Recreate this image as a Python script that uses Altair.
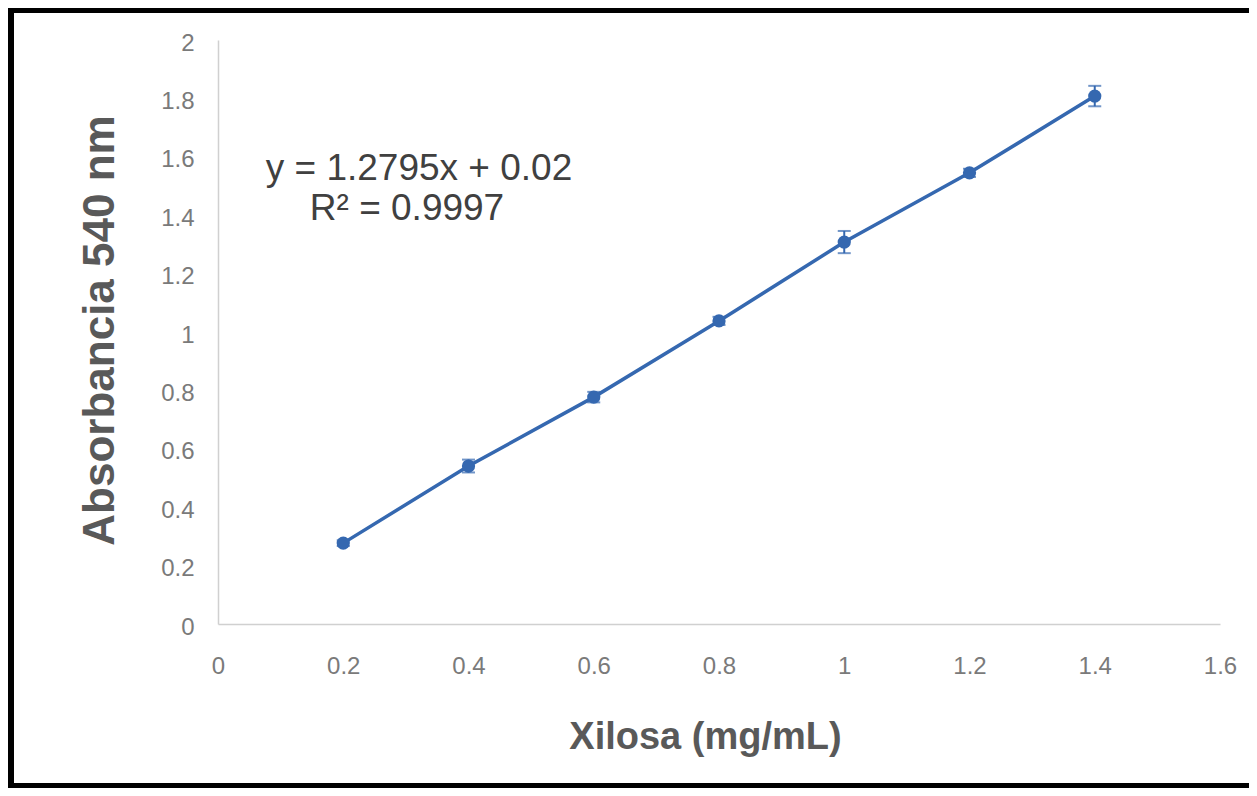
import altair as alt
import pandas as pd

# ---- data ----
xilosa = [0.2, 0.4, 0.6, 0.8, 1.0, 1.2, 1.4]
absorbancia = [0.277, 0.541, 0.777, 1.038, 1.308, 1.545, 1.808]
error = [0.010, 0.022, 0.018, 0.014, 0.038, 0.014, 0.035]
x_ticks = [0, 0.2, 0.4, 0.6, 0.8, 1.0, 1.2, 1.4, 1.6]
y_ticks = [0, 0.2, 0.4, 0.6, 0.8, 1.0, 1.2, 1.4, 1.6, 1.8, 2.0]
eq_line1 = "y = 1.2795x + 0.02"
eq_line2 = "R² = 0.9997"

df = pd.DataFrame({"x": xilosa, "y": absorbancia, "err": error})
df["lo"] = df["y"] - df["err"]
df["hi"] = df["y"] + df["err"]

BLUE = "#3568b0"
AXIS_GRAY = "#d0d0d0"
LABEL_GRAY = "#7a7a7a"
TITLE_GRAY = "#595959"

xscale = alt.Scale(domain=[0, 1.6], nice=False, zero=False)
yscale = alt.Scale(domain=[0, 2], nice=False)

xaxis = alt.Axis(
    values=x_ticks, format="~g", grid=False, ticks=False, labelFlush=False,
    domainColor=AXIS_GRAY, domainWidth=1.5,
    labelColor=LABEL_GRAY, labelFont="Liberation Sans", labelFontSize=24, labelPadding=30,
    title="Xilosa (mg/mL)", titleFont="Liberation Sans", titleFontSize=38, titleFontWeight="bold",
    titleColor=TITLE_GRAY, titleX=487, titleY=124, titleBaseline="alphabetic", titleAlign="center",
)
yaxis = alt.Axis(
    values=y_ticks, format="~g", grid=False, ticks=False, labelFlush=False,
    domainColor=AXIS_GRAY, domainWidth=1.5,
    labelColor=LABEL_GRAY, labelFont="Liberation Sans", labelFontSize=24, labelPadding=24,
    labelOffset=3,
    title="Absorbancia 540 nm", titleFont="Liberation Sans", titleFontSize=44, titleFontWeight="bold",
    titleColor=TITLE_GRAY, titleX=-118, titleY=290, titleBaseline="middle", titleAlign="center",
    titleAngle=270,
)

base = alt.Chart(df)

line = base.mark_line(color=BLUE, strokeWidth=3.5).encode(
    x=alt.X("x:Q", scale=xscale, axis=xaxis),
    y=alt.Y("y:Q", scale=yscale, axis=yaxis),
)
err_rule = base.mark_rule(color=BLUE, strokeWidth=2).encode(
    x="x:Q", y="lo:Q", y2="hi:Q"
)
err_lo = base.mark_tick(color=BLUE, orient="horizontal", size=13, thickness=2).encode(x="x:Q", y="lo:Q")
err_hi = base.mark_tick(color=BLUE, orient="horizontal", size=13, thickness=2).encode(x="x:Q", y="hi:Q")
points = base.mark_circle(color=BLUE, size=175, opacity=1).encode(x="x:Q", y="y:Q")

t1 = alt.Chart(pd.DataFrame({"t": [eq_line1]})).mark_text(
    font="Liberation Sans", fontSize=37, color="#404040", align="center", baseline="alphabetic"
).encode(text="t:N", x=alt.value(201), y=alt.value(140))
t2 = alt.Chart(pd.DataFrame({"t": [eq_line2]})).mark_text(
    font="Liberation Sans", fontSize=37, color="#404040", align="center", baseline="alphabetic"
).encode(text="t:N", x=alt.value(189), y=alt.value(180))

one = pd.DataFrame({"k": [0]})
frame_left = alt.Chart(one).mark_rule(color="black", strokeWidth=8).encode(
    x=alt.value(-208), y=alt.value(-40), y2=alt.value(760))
frame_top = alt.Chart(one).mark_rule(color="black", strokeWidth=6).encode(
    x=alt.value(-215), x2=alt.value(1040), y=alt.value(-30))
frame_bottom = alt.Chart(one).mark_rule(color="black", strokeWidth=6).encode(
    x=alt.value(-215), x2=alt.value(1040), y=alt.value(746))

chart = alt.layer(
    line, err_rule, err_lo, err_hi, points, t1, t2, frame_left, frame_top, frame_bottom
).properties(
    width=1002, height=584,
    padding={"left": 210, "top": 32, "right": 29, "bottom": 164},
    autosize=alt.AutoSizeParams(type="none"),
    background="white",
).configure_view(stroke=None)

chart.save("out.html", embed_options={"renderer": "svg", "actions": False})
